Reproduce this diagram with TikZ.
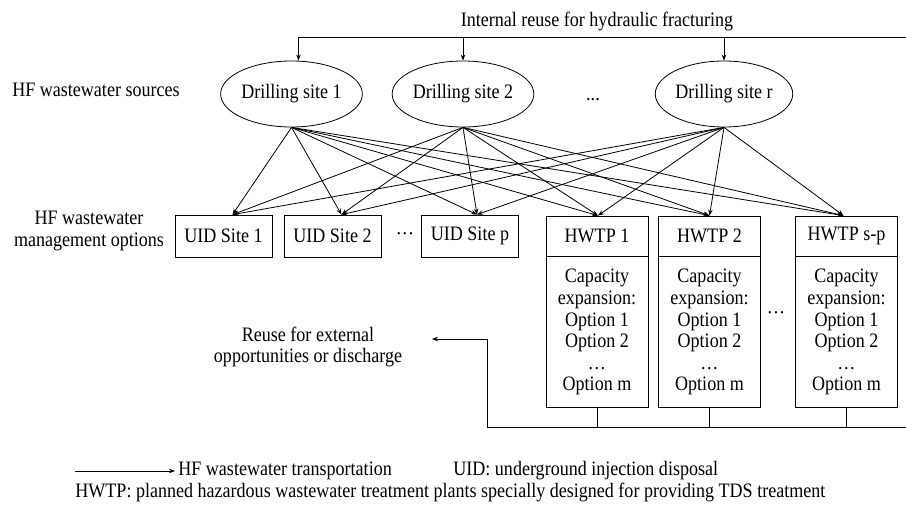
\documentclass[tikz,border=0pt]{standalone}
\usepackage{fontspec}
\setmainfont{Liberation Serif}
\newfontfamily\tnr[FakeStretch=0.88]{Liberation Serif}
\usetikzlibrary{arrows.meta,shapes.geometric,calc}
\begin{document}
\begin{tikzpicture}[x=1pt,y=-1pt,line width=0.8pt,
  every node/.style={font=\tnr\fontsize{20.5}{21.6}\selectfont, inner sep=0pt},
  src/.style={draw, ellipse, minimum width=137pt, minimum height=66pt},
  uidbox/.style={draw, minimum height=42pt, minimum width=97pt},
  hbox/.style={draw, minimum height=40pt, minimum width=102pt},
  hbody/.style={draw, minimum height=151pt, minimum width=102pt, align=center, anchor=north},
  flow/.style={-{Stealth[length=6pt,width=4.5pt]}},
  lbl/.style={align=center}
]
\useasboundingbox (0,0) rectangle (906,506);

% titles / side labels
\node[anchor=base] (title) at (597,27) {Internal reuse for hydraulic fracturing};
\node[anchor=base] (srcl) at (96,96) {HF wastewater sources};
\node[lbl] (mgl) at (89,231) {HF wastewater\\management options};

% sources
\node[src] (d1) at (291.5,94) {Drilling site 1};
\node[src] (d2) at (463,94) {Drilling site 2};
\node[src] (dr) at (724,94) {Drilling site r};
\node[anchor=base] (dots1) at (593,100) {...};

% UID boxes
\node[uidbox] (u1) at (223.5,236) {UID Site 1};
\node[uidbox] (u2) at (332.5,236) {UID Site 2};
\node[uidbox] (up) at (470,236) {UID Site p};
\node (dots2) at (405,236) {···};

% HWTP boxes
\node[hbox] (h1) at (597,236) {HWTP 1};
\node[hbody] (h1b) at (h1.south) {Capacity\\expansion:\\Option 1\\Option 2\\\ldots\\Option m};
\node[hbox] (h2) at (709.5,236) {HWTP 2};
\node[hbody] (h2b) at (h2.south) {Capacity\\expansion:\\Option 1\\Option 2\\\ldots\\Option m};
\node[hbox] (hs) at (846.5,236) {HWTP s-p};
\node[hbody] (hsb) at (hs.south) {Capacity\\expansion:\\Option 1\\Option 2\\\ldots\\Option m};
\node (dots3) at (776,315) {···};

% transport arrows
\foreach \s in {d1,d2,dr}{
  \foreach \t/\o in {u1/9,u2/9,up/7,h1/1,h2/0,hs/-3}{
    \draw[flow] (\s.south) -- ([xshift=\o pt]\t.north);
  }
}

% internal reuse line
\coordinate (tr) at (906,37);
\coordinate (a1) at ([xshift=7pt]d1.north);
\draw (tr) -- (tr -| a1);
\draw[flow] (a1 |- tr) -- (a1);
\draw[flow] (d2.north |- tr) -- (d2.north);
\draw[flow] (dr.north |- tr) -- (dr.north);

% external reuse
\node[lbl] (reuse) at (308,347) {Reuse for external\\opportunities or discharge};
\coordinate (br) at (906,427);
\coordinate (bl) at (487,427);
\coordinate (rt) at (432,339);
\draw[flow] (br) -- (bl) -- (bl |- rt) -- (rt);
\draw (h1b.south) -- (h1b.south |- bl);
\draw (h2b.south) -- (h2b.south |- bl);
\draw (hsb.south) -- (hsb.south |- bl);

% legend
\coordinate (lg0) at (75,471);
\node[anchor=west] (lgt) at (178,471) {HF wastewater transportation};
\draw[flow] (lg0) -- ([xshift=-3pt]lgt.west);
\node[anchor=west] (uidl) at (453,471) {UID: underground injection disposal};
\node[anchor=west] (hwl) at (75,492) {HWTP: planned hazardous wastewater treatment plants specially designed for providing TDS treatment};
\end{tikzpicture}
\end{document}
